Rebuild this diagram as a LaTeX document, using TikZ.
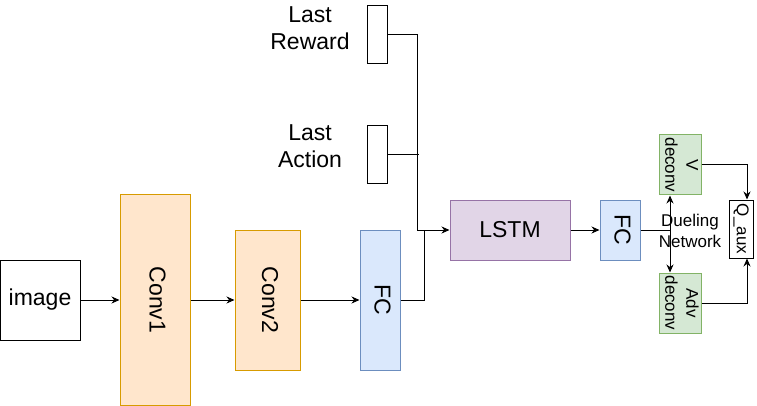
\documentclass[tikz,border=0pt]{standalone}
\usepackage{fontspec}
\setmainfont{Liberation Sans}
\usetikzlibrary{arrows.meta}

\definecolor{convfill}{HTML}{FFE6CC}
\definecolor{convline}{HTML}{D79B00}
\definecolor{fcfill}{HTML}{DAE8FC}
\definecolor{fcline}{HTML}{6C8EBF}
\definecolor{lstmfill}{HTML}{E1D5E7}
\definecolor{lstmline}{HTML}{9673A6}
\definecolor{decfill}{HTML}{D5E8D4}
\definecolor{decline}{HTML}{82B366}

\newcommand{\vtext}[1]{\rotatebox{-90}{\begin{tabular}{@{}c@{}}#1\end{tabular}}}

\begin{document}
\begin{tikzpicture}[x=1pt,y=-1pt,line width=1pt,>={Stealth[length=8pt,width=7pt]},
    big/.style={font=\fontsize{23}{27}\selectfont},
    small/.style={font=\fontsize{17}{21}\selectfont},
    box/.style={draw,inner sep=0pt,big},
    conv/.style={box,fill=convfill,draw=convline},
    fc/.style={box,fill=fcfill,draw=fcline},
    dec/.style={draw,inner sep=0pt,small,fill=decfill,draw=decline,minimum width=40,minimum height=60}]
    \useasboundingbox (0,0) rectangle (757,406);

    % main branch
    \node[box,minimum width=80,minimum height=80](img)at(40,300){image};
    \node[conv,minimum width=70,minimum height=210](conv1)at(155,300){\vtext{Conv1}};
    \node[conv,minimum width=65,minimum height=140](conv2)at(267.5,300){\vtext{Conv2}};
    \node[fc,minimum width=40,minimum height=140](fc1)at(380,300){\vtext{FC}};

    % extra inputs
    \node[box,minimum width=20,minimum height=58](rew)at(377,35){};
    \node[big,align=center](rewlbl)at(310,28.5){Last\\Reward};
    \node[box,minimum width=20,minimum height=58](act)at(377,155){};
    \node[big,align=center](actlbl)at(310,146){Last\\Action};

    \node[box,fill=lstmfill,draw=lstmline,minimum width=120,minimum height=60](lstm)at(510,230){LSTM};
    \node[fc,minimum width=40,minimum height=60](fc2)at(620,230){\vtext{FC}};

    % dueling network
    \node[dec](vdec)at(680,165){\vtext{V\\deconv}};
    \node[dec](advdec)at(680,303){\vtext{Adv\\deconv}};
    \node[draw,fill=white,inner sep=0pt,small,minimum width=24,minimum height=58](qaux)at(741,229){\vtext{Q\_aux}};
    \coordinate(split)at(670,230);

    \draw[->](img.east)--(conv1.west);
    \draw[->](conv1.east)--(conv2.west);
    \draw[->](conv2.east)--(fc1.west);
    \draw[->](rew.east)-|([xshift=-32pt]lstm.west)--(lstm.west);
    \draw(act.east)--++(31,0);
    \draw(fc1.east)-|([xshift=-25pt]lstm.west);
    \draw[->](lstm.east)--(fc2.west);
    \draw(fc2.east)--(split);
    \draw[->](split)--(split|-vdec.south);
    \draw[->](split)--(split|-advdec.north);
    \draw[->](vdec.east)-|([xshift=6pt]qaux.north);
    \draw[->](advdec.east)-|([xshift=6pt]qaux.south);
    \node[small,align=center](duel)at(690,231){Dueling\\Network};
\end{tikzpicture}
\end{document}
